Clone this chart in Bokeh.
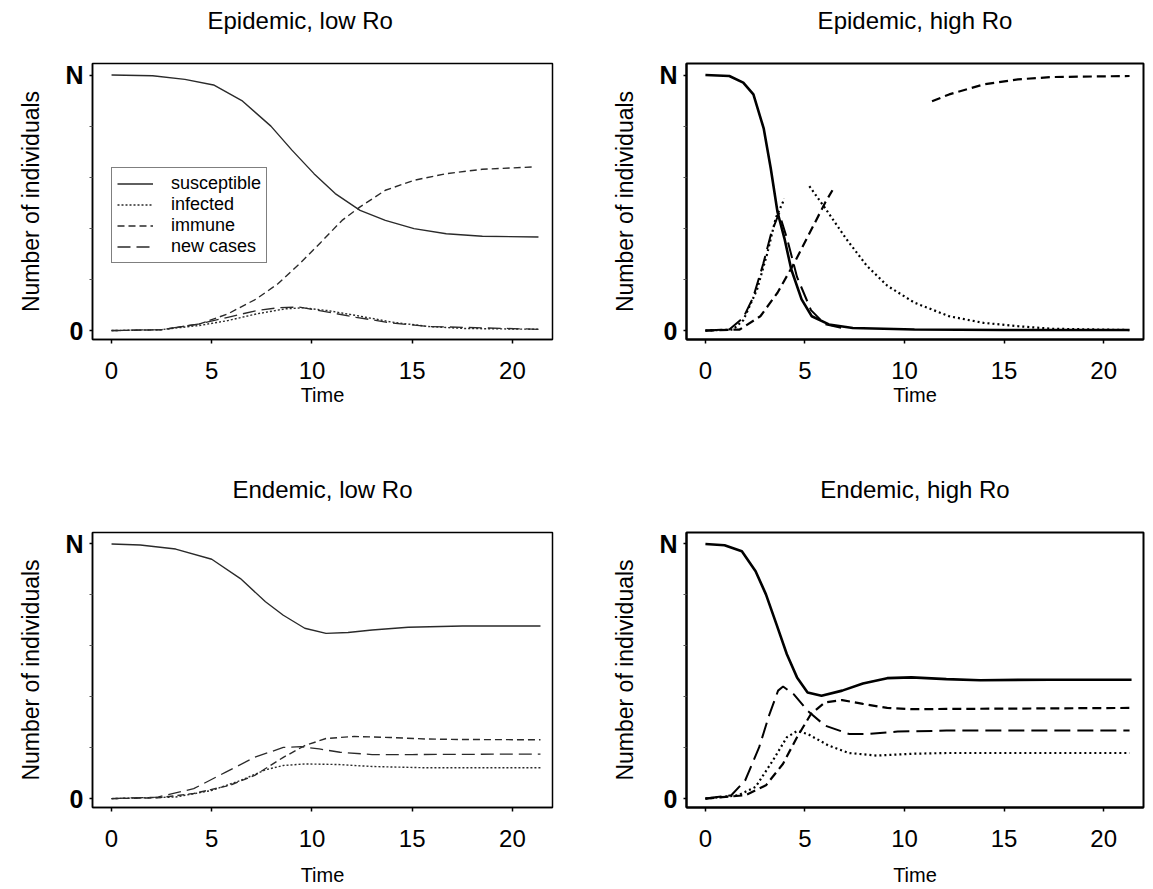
from bokeh.plotting import figure
from bokeh.layouts import column, row
from bokeh.models import FixedTicker, Legend, LegendItem, Range1d, Title
from bokeh.embed import file_html
from bokeh.resources import INLINE

nan = float("nan")

# ---------------- data (N = 1) ----------------
# Epidemic, low Ro
EL_S_t = [0, 2.05, 3.66, 5.09, 6.5, 7.95, 9.0, 10.1, 11.16, 12.4, 13.66, 15.09, 16.7, 18.5, 21.3]
EL_S = [1.0, 0.997, 0.983, 0.961, 0.90, 0.80, 0.706, 0.614, 0.536, 0.47, 0.431, 0.399, 0.379, 0.369, 0.366]
EL_I_t = [0, 2.4, 4.4, 5.8, 7.23, 8.66, 9.55, 10.8, 12.2, 14.0, 15.8, 17.6, 21.3]
EL_I = [0, 0.003, 0.02, 0.039, 0.065, 0.085, 0.089, 0.078, 0.059, 0.033, 0.016, 0.008, 0.005]
EL_R_t = [0, 2.5, 4.4, 5.8, 7.23, 8.3, 9.38, 10.45, 11.5, 12.4, 13.66, 15.09, 16.7, 18.5, 21.0]
EL_R = [0, 0.003, 0.026, 0.065, 0.124, 0.183, 0.261, 0.346, 0.431, 0.484, 0.549, 0.588, 0.614, 0.631, 0.64]
EL_C_t = [0, 2.5, 4.4, 5.8, 7.23, 8.3, 9.38, 10.8, 12.2, 14.0, 15.8, 21.3]
EL_C = [0, 0.004, 0.026, 0.052, 0.078, 0.089, 0.092, 0.072, 0.052, 0.029, 0.016, 0.005]

# Epidemic, high Ro
EH_S_t = [0, 1.2, 1.9, 2.41, 2.93, 3.28, 3.62, 3.97, 4.31, 4.83, 5.34, 6.2, 7.4, 10.5, 15.0, 21.3]
EH_S = [1.0, 0.996, 0.97, 0.924, 0.79, 0.635, 0.464, 0.36, 0.24, 0.122, 0.056, 0.024, 0.01, 0.004, 0.002, 0.002]
EH_I_t = [0, 1.38, 1.9, 2.59, 3.1, 3.53, 3.97, nan, 5.22, 6.03, 7.07, 8.1, 9.14, 10.5, 12.24, 13.97, 15.7, 17.4, 21.3]
EH_I = [0, 0.004, 0.04, 0.16, 0.30, 0.44, 0.516, nan, 0.565, 0.477, 0.359, 0.254, 0.175, 0.109, 0.056, 0.03, 0.017, 0.007, 0.002]
EH_R_t = [0, 1.72, 2.76, 3.62, 4.48, 5.34, 6.03, 6.38, nan, 11.38, 12.24, 13.97, 15.7, 17.4, 21.3]
EH_R = [0, 0.004, 0.056, 0.148, 0.267, 0.398, 0.503, 0.549, nan, 0.897, 0.924, 0.963, 0.983, 0.992, 0.996]
EH_C_t = [0, 1.2, 1.9, 2.4, 2.9, 3.3, 3.7, 4.1, 4.6, 5.3, 6.0, 7.0]
EH_C = [0, 0.004, 0.05, 0.13, 0.26, 0.38, 0.46, 0.36, 0.21, 0.08, 0.025, 0.008]

# Endemic, low Ro
NL_S_t = [0, 1.43, 3.2, 5.0, 6.43, 7.68, 8.57, 9.64, 10.7, 11.8, 13.0, 14.8, 17.5, 21.4]
NL_S = [1.0, 0.996, 0.98, 0.94, 0.864, 0.773, 0.72, 0.669, 0.649, 0.652, 0.662, 0.673, 0.678, 0.678]
NL_I_t = [0, 3.2, 5.0, 6.43, 7.68, 8.57, 9.64, 11.25, 13.0, 15.7, 21.4]
NL_I = [0, 0.006, 0.032, 0.071, 0.113, 0.13, 0.136, 0.134, 0.126, 0.121, 0.121]
NL_R_t = [0, 2.3, 4.1, 5.9, 7.14, 8.57, 9.64, 10.7, 12.1, 13.9, 15.7, 17.5, 21.4]
NL_R = [0, 0.003, 0.02, 0.052, 0.091, 0.162, 0.208, 0.236, 0.244, 0.24, 0.234, 0.232, 0.231]
NL_C_t = [0, 2.3, 4.1, 5.7, 7.14, 8.57, 9.46, 10.36, 11.4, 13.0, 15.0, 21.4]
NL_C = [0, 0.006, 0.039, 0.104, 0.162, 0.201, 0.204, 0.195, 0.182, 0.173, 0.173, 0.175]

# Endemic, high Ro
NH_S_t = [0, 0.96, 1.83, 2.52, 3.04, 3.57, 4.09, 4.6, 5.13, 5.83, 6.87, 7.91, 9.13, 10.35, 12.1, 13.8, 17.3, 21.4]
NH_S = [1.0, 0.995, 0.971, 0.893, 0.802, 0.684, 0.567, 0.476, 0.417, 0.404, 0.424, 0.452, 0.473, 0.476, 0.469, 0.465, 0.467, 0.467]
NH_I_t = [0, 1.65, 2.52, 3.39, 4.09, 4.6, 5.13, 6.17, 7.2, 8.6, 10.35, 12.1, 21.3]
NH_I = [0, 0.013, 0.046, 0.15, 0.241, 0.265, 0.254, 0.209, 0.179, 0.169, 0.176, 0.179, 0.179]
NH_R_t = [0, 2.0, 3.04, 3.9, 4.6, 5.3, 6.0, 6.87, 7.91, 9.13, 10.35, 12.1, 21.3]
NH_R = [0, 0.013, 0.052, 0.137, 0.241, 0.332, 0.378, 0.387, 0.372, 0.356, 0.351, 0.352, 0.356]
NH_C_t = [0, 1.3, 2.0, 2.7, 3.22, 3.65, 3.9, 4.43, 5.13, 6.0, 7.2, 8.26, 9.65, 12.1, 21.3]
NH_C = [0, 0.013, 0.072, 0.202, 0.332, 0.424, 0.44, 0.41, 0.345, 0.287, 0.254, 0.254, 0.263, 0.267, 0.267]

TITLES = ["Epidemic, low Ro", "Epidemic, high Ro", "Endemic, low Ro", "Endemic, high Ro"]
LEGEND_LABELS = ["susceptible", "infected", "immune", "new cases"]
X_TICKS = [0, 5, 10, 15, 20]

FONT = "Liberation Sans"


def make_panel(title, w, h, bl, br, bt, bb, series, heavy, legend=False,
               time_standoff=0, title_left=None):
    p = figure(width=w, height=h,
               x_range=Range1d(-0.95, 22.0), y_range=Range1d(-0.035, 1.045),
               output_backend="svg", toolbar_location=None,
               min_border_left=bl, min_border_right=br,
               min_border_top=bt, min_border_bottom=bb)
    # empty spacer between the frame and the title
    p.add_layout(Title(text=" ", text_font_size="20px", standoff=6), "above")
    p.title.text = title
    if title_left is None:
        p.title.align = "center"
    else:
        p.title.align = "left"
        p.title.offset = title_left
    p.title.text_font = FONT
    p.title.text_font_size = "24px"
    p.title.text_font_style = "normal"
    p.title.text_color = "black"
    p.title.standoff = 0
    p.grid.visible = False
    lw_frame = 2.0 if heavy else 1.5
    p.outline_line_color = "black"
    p.outline_line_width = lw_frame
    p.outline_line_alpha = 1.0

    p.xaxis.ticker = FixedTicker(ticks=X_TICKS)
    p.yaxis.ticker = FixedTicker(ticks=[0, 1], minor_ticks=[0.2, 0.4, 0.6, 0.8])
    p.yaxis.major_label_overrides = {1: "N"}
    for ax in (p.xaxis, p.yaxis):
        ax.axis_line_color = "black"
        ax.axis_line_width = lw_frame
        ax.major_tick_line_color = "black"
        ax.major_tick_line_width = 1.5
        ax.major_tick_in = 0
        ax.major_label_text_font = FONT
        ax.major_label_text_color = "black"
        ax.axis_label_text_font = FONT
        ax.axis_label_text_font_style = "normal"
        ax.axis_label_text_color = "black"
    p.xaxis.minor_tick_line_color = None
    p.xaxis.major_tick_out = 4
    p.xaxis.major_label_standoff = 18
    p.xaxis.major_label_text_font_size = "24px"
    p.xaxis.axis_label = "Time"
    p.xaxis.axis_label_text_font_size = "20px"
    p.xaxis.axis_label_standoff = time_standoff
    p.yaxis.major_tick_out = 3
    p.yaxis.minor_tick_out = 3
    p.yaxis.minor_tick_in = 0
    p.yaxis.minor_tick_line_color = "#555555"
    p.yaxis.major_label_standoff = 6
    p.yaxis.major_label_text_font_size = "25px"
    p.yaxis.major_label_text_font_style = "bold"
    p.yaxis.major_label_orientation = "horizontal"
    p.yaxis.axis_label = "Number of individuals"
    p.yaxis.axis_label_text_font_size = "23px"
    p.yaxis.axis_label_standoff = 18

    if heavy:
        color = "black"
        widths = [2.6, 2.2, 2.2, 2.0]
        dashes = ["solid", "2 3", "9 5", "16 7"]
    else:
        color = "#2a2a2a"
        widths = [1.4, 1.4, 1.4, 1.3]
        dashes = ["solid", "2 2", "7 4", "13 6"]

    rends = []
    for (tx, ty), lw, dash in zip(series, widths, dashes):
        r = p.line(tx, ty, line_color=color, line_width=lw, line_dash=dash)
        rends.append(r)

    if legend:
        items = [LegendItem(label=lab, renderers=[r]) for lab, r in zip(LEGEND_LABELS, rends)]
        lg = Legend(items=items, location=(19, 76))
        lg.label_text_font = FONT
        lg.label_text_font_size = "18px"
        lg.label_text_color = "black"
        lg.label_height = 15
        lg.glyph_height = 15
        lg.glyph_width = 36
        lg.label_standoff = 18
        lg.spacing = 0
        lg.padding = 5
        lg.margin = 0
        lg.border_line_color = "black"
        lg.border_line_width = 1.2
        lg.background_fill_color = "white"
        lg.background_fill_alpha = 1.0
        p.add_layout(lg)
    return p


p1 = make_panel(TITLES[0], 602, 461, 92, 50, 63, 122,
                [(EL_S_t, EL_S), (EL_I_t, EL_I), (EL_R_t, EL_R), (EL_C_t, EL_C)],
                heavy=False, legend=True, time_standoff=2, title_left=115)
p2 = make_panel(TITLES[1], 543, 461, 84, 2, 63, 122,
                [(EH_S_t, EH_S), (EH_I_t, EH_I), (EH_R_t, EH_R), (EH_C_t, EH_C)],
                heavy=True, time_standoff=2)
p3 = make_panel(TITLES[2], 602, 428, 92, 50, 71, 82,
                [(NL_S_t, NL_S), (NL_I_t, NL_I), (NL_R_t, NL_R), (NL_C_t, NL_C)],
                heavy=False, time_standoff=14)
p4 = make_panel(TITLES[3], 543, 428, 84, 2, 71, 82,
                [(NH_S_t, NH_S), (NH_I_t, NH_I), (NH_R_t, NH_R), (NH_C_t, NH_C)],
                heavy=True, time_standoff=14)

layout = column(row(p1, p2), row(p3, p4))
open("out.html", "w").write(file_html(layout, INLINE))
